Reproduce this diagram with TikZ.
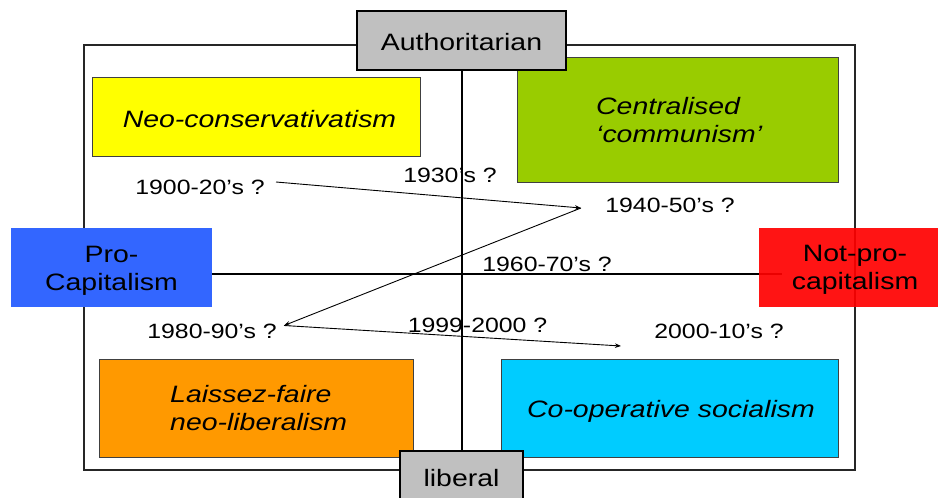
\documentclass[tikz,border=0pt]{standalone}
\usepackage{fontspec}
\setmainfont{Liberation Sans}[FakeStretch=1.2]
\usetikzlibrary{arrows.meta}
\definecolor{cyel}{HTML}{FFFF00}
\definecolor{cgreen}{HTML}{99CC00}
\definecolor{cblue}{HTML}{3366FF}
\definecolor{cred}{HTML}{FF0000}
\definecolor{corange}{HTML}{FF9900}
\definecolor{ccyan}{HTML}{00CCFF}
\definecolor{cgrey}{HTML}{C0C0C0}
\begin{document}
\begin{tikzpicture}[x=1pt,y=-1pt,
  quadbox/.style={draw=black!75,line width=1pt,inner sep=0pt},
  axisbox/.style={draw=black,line width=1.6pt,fill=cgrey,inner sep=0pt},
  capbox/.style={inner sep=0pt},
  lab/.style={inner sep=0pt,font=\fontsize{23.7}{28}\selectfont\itshape},
  plab/.style={inner sep=0pt,font=\fontsize{23.7}{28}\selectfont},
  datelab/.style={inner sep=0pt,font=\fontsize{20.7}{24}\selectfont,anchor=base},
  axisline/.style={line width=2pt,draw=black},
  arr/.style={line width=0.9pt,-{Stealth[length=6pt,width=4.5pt]}}]
\clip (0,0) rectangle (938,498);
\fill[white] (0,0) rectangle (938,498);
% outer frame
\node[draw=black!85,line width=1.2pt,inner sep=0pt,minimum width=771pt,minimum height=425pt] (frame) at (469.5,257.5) {};
% axes
\coordinate (axL) at (212,273.5);
\coordinate (axR) at (782,273.5);
\coordinate (axT) at (461.7,70);
\coordinate (axB) at (461.7,455);
\draw[axisline] (axT) -- (axB);
\draw[axisline] (axL) -- (axR);
% quadrant boxes
\node[quadbox,fill=cyel,minimum width=328pt,minimum height=79pt] (neo) at (256,116.5) {};
\node[quadbox,fill=cgreen,minimum width=321pt,minimum height=125pt] (comm) at (677.5,119.5) {};
\node[quadbox,fill=corange,minimum width=314pt,minimum height=98pt] (lf) at (256,408) {};
\node[quadbox,fill=ccyan,minimum width=337pt,minimum height=98pt] (coop) at (669.5,408) {};
% side boxes
\node[capbox,fill=cblue,minimum width=201pt,minimum height=79pt] (pro) at (111.5,267.5) {};
\node[capbox,fill=cred,fill opacity=0.92,minimum width=179pt,minimum height=79pt] (notpro) at (848.5,267.5) {};
% axis labels
\node[axisbox,minimum width=209pt,minimum height=59pt] (auth) at (461.5,40.5) {};
\node[axisbox,minimum width=123pt,minimum height=60pt] (lib) at (461.5,481) {};
% texts
\node[plab,anchor=base] (tauth) at (461.5,50) {Authoritarian};
\node[plab,anchor=base] (tlib) at (461.5,486) {liberal};
\node[plab,align=center] (tpro) at (111.5,271) {Pro-\\Capitalism};
\node[plab,align=center] (tnotpro) at (855,269.5) {Not-pro-\\capitalism};
\node[lab,anchor=base] (tneo) at (259.5,127) {Neo-conservativatism};
\node[lab,align=left,anchor=west] (tcomm) at (596,120.3) {Centralised\\‘communism’};
\node[lab,align=left,anchor=west] (tlf) at (170,408.3) {Laissez-faire\\neo-liberalism};
\node[lab,anchor=base] (tcoop) at (671,417) {Co-operative socialism};
% dates
\node[datelab] (d1) at (200,194) {1900-20’s ?};
\node[datelab] (d2) at (450,182) {1930’s ?};
\node[datelab] (d3) at (670,212.7) {1940-50’s ?};
\node[datelab] (d4) at (547,271) {1960-70’s ?};
\node[datelab] (d5) at (212,338) {1980-90’s ?};
\node[datelab] (d6) at (477.5,332) {1999-2000 ?};
\node[datelab] (d7) at (719,338) {2000-10’s ?};
% arrows
\coordinate (p1) at (276,182);
\coordinate (p2) at (581,208);
\coordinate (p3) at (284,325.5);
\coordinate (p4) at (621,346);
\draw[arr] (p1) -- (p2);
\draw[arr] (p2) -- (p3);
\draw[arr] (p3) -- (p4);
\end{tikzpicture}
\end{document}
